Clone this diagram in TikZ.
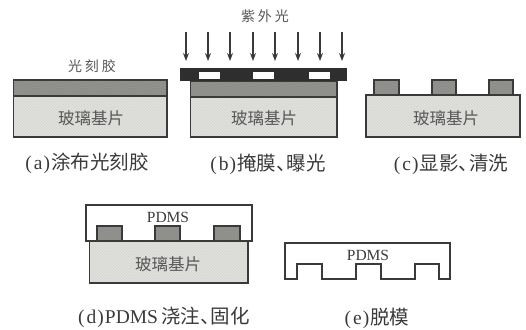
\documentclass[tikz,border=0pt]{standalone}
\usepackage{fontspec}
\setmainfont{Liberation Serif}
\newfontfamily\cjk{Noto Sans CJK SC}
\usetikzlibrary{arrows.meta,patterns}
\definecolor{ink}{HTML}{3A3A3A}
\definecolor{glassc}{HTML}{E0E0DC}
\definecolor{resistc}{HTML}{939390}
\definecolor{maskc}{HTML}{2E2E2E}
\newcommand{\dun}{、\kern-9pt}
\newcommand{\pa}[1]{(\kern2pt#1\kern1pt)\kern1pt}
\tikzset{
  x=1pt,y=-1pt,
  outline/.style={draw=ink,line width=1.1pt},
  glass/.style={outline,preaction={fill=glassc},pattern=north west lines,pattern color=glassc!95!black},
  resist/.style={outline,preaction={fill=resistc},pattern=north west lines,pattern color=resistc!92!black},
  pdmsbox/.style={outline,fill=white},
  mask/.style={fill=maskc},
  window/.style={fill=white},
  uv/.style={draw=ink,line width=1.2pt,-{Stealth[length=8pt,width=6pt]}},
  glasstext/.style={text=ink!85,font=\cjk\fontsize{16.5}{17}\selectfont},
  smalltext/.style={text=ink!85,font=\cjk\addfontfeatures{LetterSpace=20}\fontsize{14}{14}\selectfont},
  captext/.style={text=ink,font=\fontsize{19.5}{20}\selectfont},
  pdmstext/.style={text=ink,font=\fontsize{15.5}{16}\selectfont},
}
\begin{document}
\begin{tikzpicture}
\useasboundingbox (0,0) rectangle (526,329);
% (a)
\draw[resist] (13.5,80) rectangle (167,96);
\draw[glass] (13.5,96) rectangle (167,137);
\node[glasstext] (ga) at (91,118) {玻璃基片};
\node[smalltext] (la) at (92,66) {光刻胶};
\node[captext] (ca) at (87,163) {\pa{a}{\cjk 涂布光刻胶}};
% (b)
\draw[resist] (190.5,81) rectangle (337,97);
\draw[glass] (190.5,97) rectangle (337,137);
\fill[mask] (180,68) rectangle (347,81);
\fill[window] (199,72) rectangle (220,79);
\fill[window] (253,72) rectangle (274,79);
\fill[window] (309,72) rectangle (330,79);
\node[glasstext] (gb) at (264,118) {玻璃基片};
\node[smalltext] (lb) at (265,16) {紫外光};
\node[captext] (cb) at (268,164) {\pa{b}{\cjk 掩膜\dun 曝光}};
\foreach \i/\ax in {1/186,2/208,3/230,4/253,5/275,6/298,7/320,8/342}{
  \coordinate (s\i) at (\ax,32);
  \coordinate (e\i) at (\ax,61);
  \draw[uv] (s\i) -- (e\i);
}
% (c)
\draw[resist] (374,80) rectangle (399,95);
\draw[resist] (432,80) rectangle (456,95);
\draw[resist] (489,80) rectangle (513,95);
\draw[glass] (366,95) rectangle (520,137);
\node[glasstext] (gc) at (446,118) {玻璃基片};
\node[captext] (cc) at (451,164) {\pa{c}{\cjk 显影\dun 清洗}};
% (d)
\draw[pdmsbox] (86,205) rectangle (252,241);
\draw[resist] (97,226) rectangle (122,241);
\draw[resist] (155,226) rectangle (180,241);
\draw[resist] (214,226) rectangle (240,241);
\draw[glass] (89.5,241) rectangle (248,283);
\node[pdmstext] (pd) at (168,217) {PDMS};
\node[glasstext] (gd) at (168,264) {玻璃基片};
\node[captext] (cd) at (164,317) {\pa{d}PDMS\,{\cjk 浇注\dun 固化}};
% (e)
\draw[outline,line join=miter] (285,279) -- (285,243) -- (450,243) -- (450,279) -- (439,279) -- (439,264) -- (415,264) -- (415,279) -- (381,279) -- (381,264) -- (356,264) -- (356,279) -- (322,279) -- (322,264) -- (297,264) -- (297,279) -- cycle;
\node[pdmstext] (pe) at (368,255) {PDMS};
\node[captext] (ce) at (377,318) {\pa{e}{\cjk 脱模}};
\end{tikzpicture}
\end{document}
